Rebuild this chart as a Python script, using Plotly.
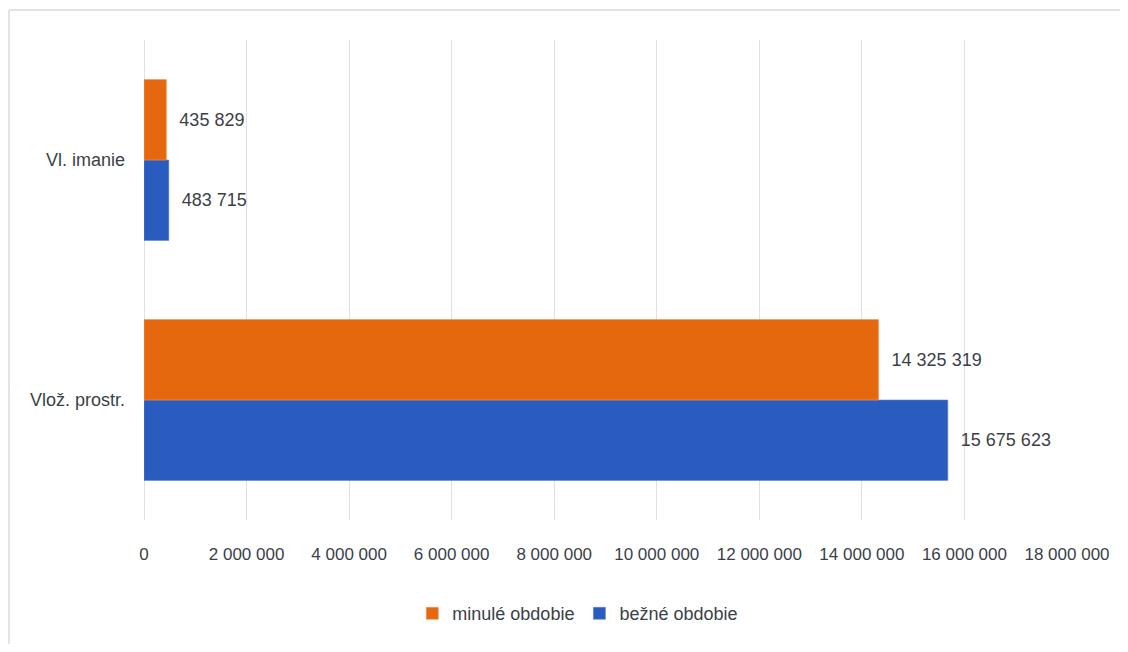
import plotly.graph_objects as go

categories = ["Vlož. prostr.", "Vl. imanie"]
bezne_obdobie = [15675623, 483715]
minule_obdobie = [14325319, 435829]
series_names = ["bežné obdobie", "minulé obdobie"]
x_ticks = [0, 2000000, 4000000, 6000000, 8000000, 10000000, 12000000, 14000000, 16000000, 18000000]

FONT = "Liberation Sans, Arial, sans-serif"
TXT = "#3b3f48"
NB = "\u00a0\u00a0"

fig = go.Figure()
fig.add_trace(go.Bar(
    y=categories, x=bezne_obdobie, orientation="h", name=series_names[0],
    marker=dict(color="#2a5cbf", line=dict(color="#5b84d0", width=0.6)),
    texttemplate=NB + "%{x:,}", textposition="outside",
    textfont=dict(family=FONT, size=18, color=TXT), cliponaxis=False,
))
fig.add_trace(go.Bar(
    y=categories, x=minule_obdobie, orientation="h", name=series_names[1],
    marker=dict(color="#e5680f", line=dict(color="#f0955a", width=0.6)),
    texttemplate=NB + "%{x:,}", textposition="outside",
    textfont=dict(family=FONT, size=18, color=TXT), cliponaxis=False,
))

# page body has an 8px margin, so the figure is offset by 8px
fig.update_layout(
    width=1120, height=636,
    margin=dict(l=136, r=61, t=32, b=124),
    paper_bgcolor="white", plot_bgcolor="white",
    barmode="group", bargap=0.33, bargroupgap=0,
    separators=". ",
    font=dict(family=FONT, size=18, color=TXT),
    showlegend=True,
    legend=dict(orientation="h", x=0.47, xanchor="center", y=-0.195, yanchor="middle",
                traceorder="reversed", font=dict(family=FONT, size=18, color=TXT),
                itemwidth=30),
    xaxis=dict(range=[0, 18000000], tickvals=x_ticks, tickformat=",d",
               showgrid=True, gridcolor="#dde1e9", gridwidth=1,
               zeroline=True, zerolinecolor="#dde1e9", zerolinewidth=1,
               showline=False, ticks="", ticklabelstandoff=22,
               tickfont=dict(family=FONT, size=17, color=TXT)),
    yaxis=dict(showgrid=False, zeroline=False, showline=False, ticks="",
               ticklabelstandoff=18, tickfont=dict(family=FONT, size=18, color=TXT)),
    shapes=[
        dict(type="line", xref="paper", yref="paper", x0=-0.1463, x1=1.1, y0=1.0625, y1=1.0625,
             line=dict(color="#dfe4ea", width=2)),
        dict(type="line", xref="paper", yref="paper", x0=-0.1463, x1=-0.1463, y0=1.0625, y1=-0.3,
             line=dict(color="#dfe4ea", width=2)),
    ],
)

fig.write_html("out.html")
